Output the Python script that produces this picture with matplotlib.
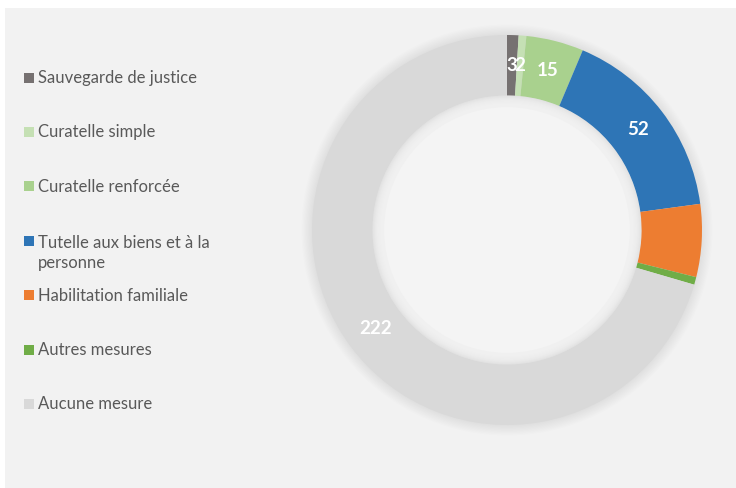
import numpy as np
import matplotlib
matplotlib.use("Agg")
import matplotlib.pyplot as plt
from matplotlib.patches import Rectangle, Circle

# ── Données ──────────────────────────────────────────────────────────────
categories = [
    "Sauvegarde de justice",
    "Curatelle simple",
    "Curatelle renforcée",
    "Tutelle aux biens et à la\npersonne",
    "Habilitation familiale",
    "Autres mesures",
    "Aucune mesure",
]
values = [3, 2, 15, 52, 19, 2, 222]
show_label = [True, True, True, True, False, False, True]
colors = ["#767171", "#c5e0b4", "#a9d18e", "#2e75b6", "#ed7d31", "#70ad47", "#d9d9d9"]

W, H = 736, 488
plt.rcParams["font.family"] = ["Lato", "DejaVu Sans"]

fig = plt.figure(figsize=(W / 100, H / 100), dpi=100, facecolor="white")

# fond gris clair du graphique
fig.patches.append(Rectangle((5 / W, 0), 1, 1 - 8 / H, transform=fig.transFigure,
                             facecolor="#f2f2f2", edgecolor="none", zorder=-5))

# ── Anneau ───────────────────────────────────────────────────────────────
cx, cy, r_px = 507, 230, 195
half = 215
ax = fig.add_axes([(cx - half) / W, (H - cy - half) / H, 2 * half / W, 2 * half / H])
ax.set_facecolor("none")
ax.set_zorder(1)

ring_w = 0.31
# léger halo autour de l'anneau
for k in range(10):
    ax.add_patch(Circle((0, 0), 1 + 0.006 * k, facecolor="#000000", alpha=0.008, lw=0, zorder=0))
# ombre intérieure douce
r_in = 1 - ring_w
for k in range(12):
    ax.add_patch(Circle((0, 0), r_in - 0.005 * k, facecolor="#f4f4f4", alpha=0.22,
                        lw=0, zorder=3))
ax.add_patch(Circle((0, 0), r_in - 0.06, facecolor="#f4f4f4", lw=0, zorder=3))

wedges, _ = ax.pie(values, colors=colors, startangle=90, counterclock=False, radius=1,
                   wedgeprops=dict(width=ring_w, edgecolor="none"))
for w in wedges:
    w.set_zorder(2)

lim = half / r_px
ax.set_xlim(-lim, lim)
ax.set_ylim(-lim, lim)
ax.set_aspect("equal")
ax.axis("off")

r_lab = 1 - ring_w / 2
for w, v, show in zip(wedges, values, show_label):
    if not show:
        continue
    ang = np.radians((w.theta1 + w.theta2) / 2)
    ax.text(r_lab * np.cos(ang), r_lab * np.sin(ang), str(v), ha="center", va="center",
            color="white", fontsize=13.5, fontweight="bold", zorder=5)

# ── Légende ─────────────────────────────────────────────────────────────
y0, dy = 77.5, 54.4
line_h = 21.5
for i, (lab, col) in enumerate(zip(categories, colors)):
    y = y0 + dy * i
    n_extra = lab.count("\n")
    fig.patches.append(Rectangle((24 / W, 1 - (y + 5) / H), 10 / W, 10 / H,
                                 transform=fig.transFigure, facecolor=col,
                                 edgecolor="none", zorder=2))
    # va='baseline' suit la dernière ligne : décaler pour les libellés sur deux lignes
    fig.text(38 / W, 1 - (y + 5.5 + n_extra * line_h) / H, lab, ha="left", va="baseline",
             fontsize=12, color="#595959", linespacing=1.3)

fig.savefig("out.png", dpi=100, facecolor="white")
